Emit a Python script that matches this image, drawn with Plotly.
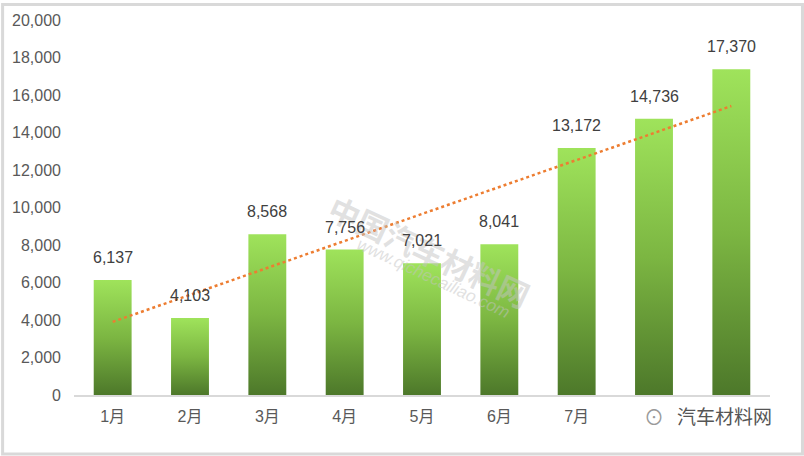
import numpy as np
import plotly.graph_objects as go

months = ['1月', '2月', '3月', '4月', '5月', '6月', '7月', '8月', '9月']
values = [6137, 4103, 8568, 7756, 7021, 8041, 13172, 14736, 17370]
y_ticks = list(range(0, 20001, 2000))

FONT = "Liberation Sans, Noto Sans CJK SC, sans-serif"
BAR_W = 0.49
GRAD = [[0, '#4d782a'], [0.5, '#7cb642'], [1, '#9fe35b']]

L, R, T, B, W, H = 73, 34, 17, 61, 804, 456
PW, PH = W - L - R, H - T - B


def px(x):
    return (x - L) / PW


def py(y):
    return (H - B - y) / PH


pos = list(range(len(months)))
fig = go.Figure()

for i, v in zip(pos, values):
    fig.add_trace(go.Scatter(
        x=[i - BAR_W / 2, i + BAR_W / 2, i + BAR_W / 2, i - BAR_W / 2, i - BAR_W / 2],
        y=[0, 0, v, v, 0],
        mode='lines', fill='toself',
        line=dict(width=0, color='rgba(0,0,0,0)'),
        fillgradient=dict(type='vertical', colorscale=GRAD),
        hoverinfo='skip', showlegend=False,
    ))

# linear trendline
k, b = np.polyfit(pos, values, 1)
tx = [pos[0], pos[-1]]
fig.add_trace(go.Scatter(
    x=tx, y=[k * t + b for t in tx], mode='lines',
    line=dict(color='#ED7D31', width=2.5, dash='dot'),
    showlegend=False, hoverinfo='skip',
))

# faint watermark
WM = 'rgba(195,195,195,0.5)'
fig.add_annotation(xref='paper', yref='paper', x=px(428), y=py(252),
                   xanchor='center', yanchor='middle',
                   text='<b>中国汽车材料网</b>', showarrow=False, textangle=25,
                   font=dict(family=FONT, size=31, color=WM))
fig.add_annotation(xref='paper', yref='paper', x=px(433), y=py(278),
                   xanchor='center', yanchor='middle',
                   text='<i>www.qichecailiao.com</i>', showarrow=False, textangle=25,
                   font=dict(family=FONT, size=17, color=WM))

for i, v in zip(pos, values):
    fig.add_annotation(x=i, y=v, text=f"{v:,}", showarrow=False,
                       yanchor='bottom', yshift=12,
                       font=dict(family=FONT, size=16, color='#404040'))

# corner logo text
fig.add_annotation(xref='paper', yref='paper', x=px(778), y=py(418),
                   xanchor='right', yanchor='middle', text='汽车材料网', showarrow=False,
                   bgcolor='white', borderpad=5,
                   font=dict(family=FONT, size=19, color='#555555'))
fig.add_annotation(xref='paper', yref='paper', x=px(654), y=py(418),
                   xanchor='center', yanchor='middle',
                   text='⊙', showarrow=False, bgcolor='white', borderpad=3,
                   font=dict(family=FONT, size=20, color='#9a9a9a'))

# outer border
fig.add_shape(type='rect', xref='paper', yref='paper',
              x0=px(1.5), x1=px(802.5), y0=py(454.5), y1=py(1.5),
              line=dict(color='#d9d9d9', width=3))

fig.update_layout(
    width=W, height=H,
    margin=dict(l=L, r=R, t=T, b=B),
    paper_bgcolor='white', plot_bgcolor='white',
    font=dict(family=FONT, size=16, color='#595959'),
    xaxis=dict(range=[-0.5, len(months) - 0.5], tickvals=pos, ticktext=months,
               showgrid=False, zeroline=False, showline=True,
               linecolor='#d9d9d9', linewidth=2, ticks='',
               ticklabelstandoff=6, fixedrange=True),
    yaxis=dict(range=[0, 20000], tickvals=y_ticks, tickformat=',',
               showgrid=False, zeroline=False, showline=False, ticks='',
               ticklabelstandoff=12, fixedrange=True),
)

fig.write_html("out.html", config={'displayModeBar': False},
               post_script="document.body.style.margin='0';")
